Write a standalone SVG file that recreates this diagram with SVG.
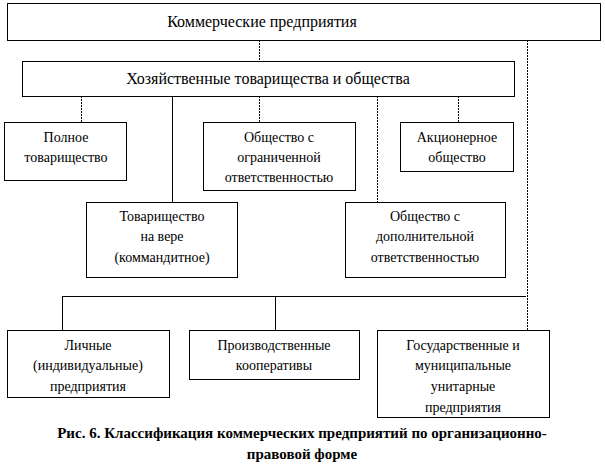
<svg xmlns="http://www.w3.org/2000/svg" width="605" height="473" viewBox="0 0 605 473">
<style>
.b{fill:#fff;stroke:#000;stroke-width:1}
.t{font-family:"Liberation Serif","DejaVu Serif",serif;font-size:14px;text-anchor:middle;fill:#000}
.L{font-size:16px}
.c{fill:none;stroke:#000;stroke-width:1}
.d{stroke-dasharray:2,1}
.cap{font-family:"Liberation Serif","DejaVu Serif",serif;font-size:15px;font-weight:bold;text-anchor:middle}
</style>
<rect width="605" height="473" fill="#fff"/>
<g id="connectors">
<line class="c d" x1="259.5" y1="40" x2="259.5" y2="61"/>
<line class="c d" x1="81.5" y1="96" x2="81.5" y2="122"/>
<line class="c" x1="172.5" y1="96" x2="172.5" y2="202"/>
<line class="c d" x1="259.5" y1="96" x2="259.5" y2="122"/>
<line class="c d" x1="377.5" y1="96" x2="377.5" y2="202"/>
<line class="c d" x1="458.5" y1="96" x2="458.5" y2="122"/>
<line class="c d" x1="527.5" y1="40" x2="527.5" y2="330"/>
<line class="c" x1="62.5" y1="296.5" x2="526" y2="296.5"/>
<line class="c" x1="62.5" y1="296" x2="62.5" y2="330"/>
<line class="c" x1="275.5" y1="296" x2="275.5" y2="330"/>
</g>
<g id="n1"><rect class="b" x="7.5" y="3.5" width="593" height="37"/><text class="t L" x="262" y="27">Коммерческие предприятия</text></g>
<g id="n2"><rect class="b" x="22.5" y="61.5" width="492" height="35"/><text class="t L" x="268" y="84">Хозяйственные товарищества и общества</text></g>
<g id="n3"><rect class="b" x="4.5" y="122.5" width="122" height="58"/><text class="t" x="66" y="142">Полное</text><text class="t" x="66" y="162">товарищество</text></g>
<g id="n4"><rect class="b" x="203.5" y="122.5" width="152" height="68"/><text class="t" x="279" y="142">Общество с</text><text class="t" x="279" y="162">ограниченной</text><text class="t" x="279" y="182">ответственностью</text></g>
<g id="n5"><rect class="b" x="400.5" y="122.5" width="113" height="49"/><text class="t" x="457" y="142">Акционерное</text><text class="t" x="457" y="162">общество</text></g>
<g id="n6"><rect class="b" x="86.5" y="202.5" width="151" height="75"/><text class="t" x="162" y="221">Товарищество</text><text class="t" x="162" y="241">на вере</text><text class="t" x="162" y="262">(коммандитное)</text></g>
<g id="n7"><rect class="b" x="345.5" y="202.5" width="160" height="75"/><text class="t" x="425" y="221">Общество с</text><text class="t" x="425" y="241">дополнительной</text><text class="t" x="425" y="262">ответственностью</text></g>
<g id="n8"><rect class="b" x="7.5" y="330.5" width="162" height="67"/><text class="t" x="88" y="350">Личные</text><text class="t" x="88" y="370">(индивидуальные)</text><text class="t" x="88" y="391">предприятия</text></g>
<g id="n9"><rect class="b" x="189.5" y="330.5" width="170" height="49"/><text class="t" x="274" y="350">Производственные</text><text class="t" x="274" y="370">кооперативы</text></g>
<g id="n10"><rect class="b" x="377.5" y="330.5" width="172" height="87"/><text class="t" x="463" y="350">Государственные и</text><text class="t" x="463" y="370">муниципальные</text><text class="t" x="463" y="391">унитарные</text><text class="t" x="463" y="412">предприятия</text></g>
<text class="cap" x="302" y="438">Рис. 6. Классификация коммерческих предприятий по организационно-</text>
<text class="cap" x="302" y="459">правовой форме</text>
</svg>
